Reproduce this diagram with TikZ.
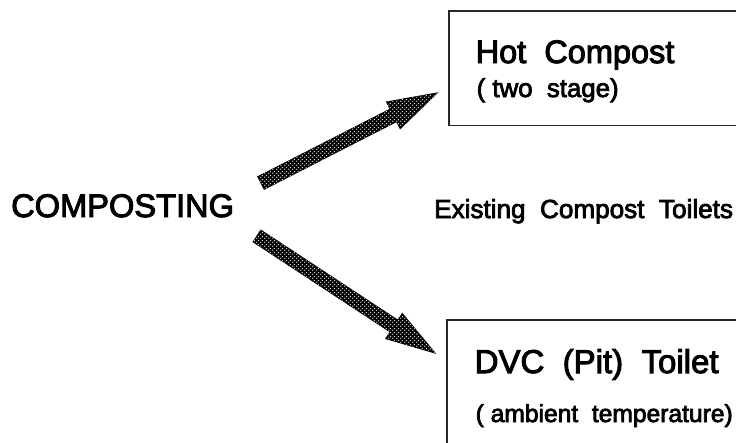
\documentclass[tikz,border=0pt]{standalone}
\usepackage{fontspec}
\setmainfont{Liberation Sans}
\newfontfamily\heavy{Liberation Sans}[FakeBold=3]
\usetikzlibrary{calc, patterns.meta}

\tikzdeclarepattern{
  name=stipple,
  type=uncolored,
  bottom left={(0pt,0pt)},
  top right={(4pt,4pt)},
  tile size={(4pt,4pt)},
  code={
    \fill (1pt,1pt) circle (0.9pt);
    \fill (3pt,3pt) circle (0.9pt);
  }
}

% fat shaded arrow from #1 to #2
\newcommand{\fatarrow}[2]{%
  \coordinate (hb) at ($(#2)!49pt!(#1)$);
  \draw[fat] ($(#1)!7pt!90:(#2)$) -- ($(hb)!7pt!90:(#2)$) -- ($(hb)!15pt!90:(#2)$) -- (#2)
    -- ($(hb)!15pt!-90:(#2)$) -- ($(hb)!7pt!-90:(#2)$) -- ($(#1)!7pt!-90:(#2)$) -- cycle;}

\begin{document}
\begin{tikzpicture}[x=1pt, y=-1pt,
    box/.style={anchor=north west, inner sep=0pt, minimum width=420pt},
    edge/.style={draw=black!85, line width=1.5pt},
    head/.style={anchor=base west, inner sep=0pt, font=\heavy\fontsize{32.6}{36}\selectfont},
    sub/.style={anchor=base west, inner sep=0pt, font=\heavy\fontsize{25.8}{28}\selectfont},
    fat/.style={draw=black, line width=1pt, line join=miter, fill=black,
                postaction={pattern=stipple, pattern color=white!85!black}}
  ]
    \clip (0,0) rectangle (736,442);

    \node[head] (comp) at (11,217) {COMPOSTING};
    \node[anchor=base west, inner sep=0pt, font=\heavy\fontsize{26.1}{30}\selectfont] (exist) at (434,218)
      {Existing\ \ Compost\ \ Toilets};

    % boxes run off the right edge
    \node[box, minimum height=114pt] (hotbox) at (449,11) {};
    \draw[edge] (hotbox.north east) -- (hotbox.north west) -- (hotbox.south west) -- (hotbox.south east);
    \node[head, font=\heavy\fontsize{32.5}{36}\selectfont] (hot) at (475.5,63) {Hot\ \ Compost};
    \node[sub] (hotsub) at (476.5,97) {( two\ \ stage)};

    \node[box, minimum height=150pt] (dvcbox) at (447,320) {};
    \draw[edge] (dvcbox.north east) -- (dvcbox.north west) -- (dvcbox.south west);
    \node[head, font=\heavy\fontsize{33}{36}\selectfont] (dvc) at (474.5,373) {DVC\ \ (Pit)\ \ Toilet};
    \node[sub, font=\heavy\fontsize{24.6}{28}\selectfont] (dvcsub) at (475.5,422) {( ambient\ \ temperature)};

    \coordinate (upfrom) at (261,183);
    \coordinate (upto) at (437,93);
    \coordinate (downfrom) at (257,236);
    \coordinate (downto) at (435,353);

    \fatarrow{upfrom}{upto}
    \fatarrow{downfrom}{downto}
  \end{tikzpicture}
\end{document}
